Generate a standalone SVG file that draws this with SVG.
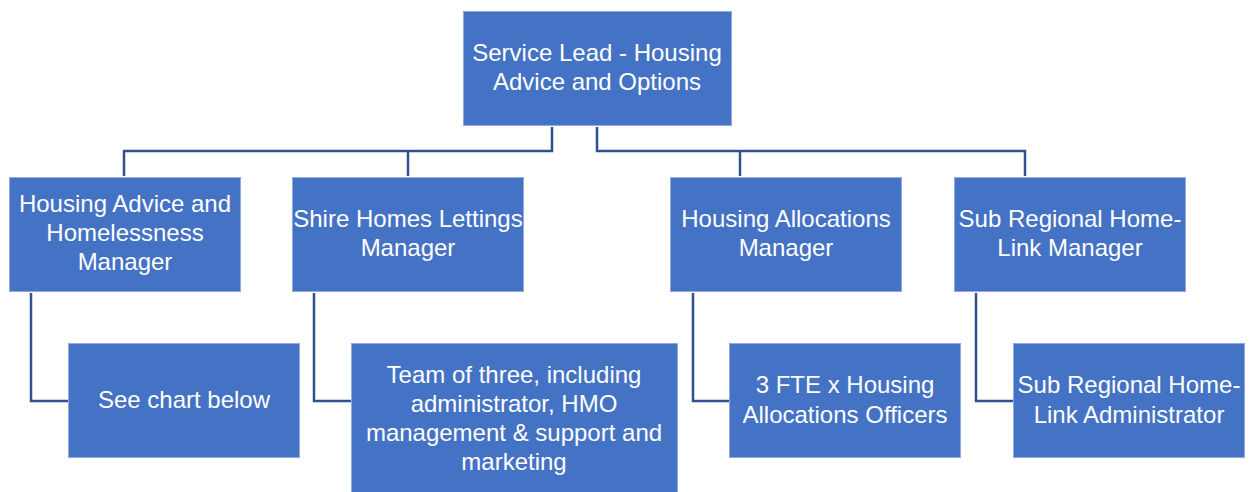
<svg xmlns="http://www.w3.org/2000/svg" width="1252" height="492" viewBox="0 0 1252 492">
<style>
.box{fill:#4472C4;stroke:#8FAADC;stroke-width:1}
.t{font-family:"Liberation Sans",Arial,sans-serif;font-size:24px;fill:#FFFFFF;text-anchor:middle}
.c{fill:none;stroke:#2F528F;stroke-width:2.5}
</style>
<rect width="1252" height="492" fill="#FFFFFF"/>
<g id="connectors">
<path class="c" d="M552,127 V151 H124 V176"/>
<path class="c" d="M408,151 V176"/>
<path class="c" d="M597,127 V151 H1025 V176"/>
<path class="c" d="M740,151 V176"/>
<path class="c" d="M31,293 V401 H68"/>
<path class="c" d="M314,293 V401 H351"/>
<path class="c" d="M693,293 V401 H729"/>
<path class="c" d="M976,293 V401 H1013"/>
</g>
<g id="n-service-lead">
<rect class="box" x="463.5" y="11.5" width="268" height="114"/>
<text class="t" x="597" y="61">Service Lead - Housing</text>
<text class="t" x="597" y="90">Advice and Options</text>
</g>
<g id="n-advice-manager">
<rect class="box" x="9.5" y="177.5" width="231" height="114"/>
<text class="t" x="125" y="212">Housing Advice and</text>
<text class="t" x="125" y="241">Homelessness</text>
<text class="t" x="125" y="270">Manager</text>
</g>
<g id="n-shire-homes">
<rect class="box" x="292.5" y="177.5" width="231" height="114"/>
<text class="t" x="408" y="227">Shire Homes Lettings</text>
<text class="t" x="408" y="256">Manager</text>
</g>
<g id="n-allocations-manager">
<rect class="box" x="670.5" y="177.5" width="231" height="114"/>
<text class="t" x="786" y="227">Housing Allocations</text>
<text class="t" x="786" y="256">Manager</text>
</g>
<g id="n-homelink-manager">
<rect class="box" x="954.5" y="177.5" width="231" height="114"/>
<text class="t" x="1070" y="227">Sub Regional Home-</text>
<text class="t" x="1070" y="256">Link Manager</text>
</g>
<g id="n-see-chart">
<rect class="box" x="68.5" y="343.5" width="231" height="114"/>
<text class="t" x="184" y="408">See chart below</text>
</g>
<g id="n-team-three">
<rect class="box" x="351.5" y="343.5" width="326" height="152"/>
<text class="t" x="514" y="383">Team of three, including</text>
<text class="t" x="514" y="412">administrator, HMO</text>
<text class="t" x="514" y="441">management &amp; support and</text>
<text class="t" x="514" y="470">marketing</text>
</g>
<g id="n-allocations-officers">
<rect class="box" x="729.5" y="343.5" width="231" height="114"/>
<text class="t" x="845" y="393">3 FTE x Housing</text>
<text class="t" x="845" y="423">Allocations Officers</text>
</g>
<g id="n-homelink-admin">
<rect class="box" x="1013.5" y="343.5" width="231" height="114"/>
<text class="t" x="1129" y="393">Sub Regional Home-</text>
<text class="t" x="1129" y="423">Link Administrator</text>
</g>
</svg>
